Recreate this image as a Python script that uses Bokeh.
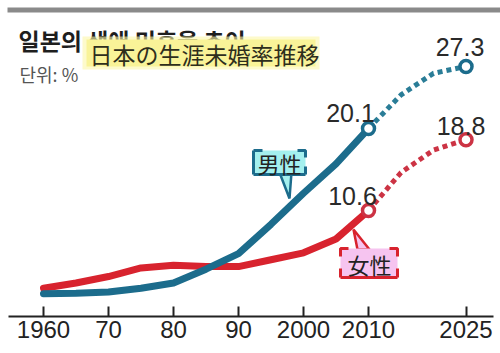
from bokeh.plotting import figure
from bokeh.models import FixedTicker, Range1d
from bokeh.core.properties import value
from bokeh.embed import file_html
from bokeh.resources import INLINE

# ---- data ----
years = [1960, 1965, 1970, 1975, 1980, 1985, 1990, 1995, 2000, 2005, 2010]
male = [0.95, 1.0, 1.15, 1.6, 2.2, 3.8, 5.6, 9.0, 12.6, 16.0, 20.1]
female = [1.6, 2.2, 2.95, 3.95, 4.25, 4.1, 4.1, 4.9, 5.7, 7.3, 10.6]
proj_years = [2010, 2015, 2020, 2025]
male_proj = [20.1, 24.0, 26.5, 27.3]
female_proj = [10.6, 15.0, 17.6, 18.8]
tick_years = [1960, 1970, 1980, 1990, 2000, 2010, 2025]
tick_labels = ["1960", "70", "80", "90", "2000", "2010", "2025"]

title_ko = "일본의 생애 미혼율 추이"
title_ja = "日本の生涯未婚率推移"
unit_text = "단위: %"
male_label = "男性"
female_label = "女性"

BLUE = "#1c6c8c"
BLUE_D = "#2a7d97"
RED = "#d8232e"
RED_D = "#cc3344"
NUM_FONT = "Liberation Sans"

W, H = 500, 353
FRAME_H = 316
# pixel -> data helpers (layout only)
PX_X0, PX_PER_YR = 43.0, 6.5
PX_Y0, PX_PER_UNIT = 301.5, 8.63


def X(px):
    return 1960 + (px - PX_X0) / PX_PER_YR


def Y(py):
    return (PX_Y0 - py) / PX_PER_UNIT


p = figure(width=W, height=H, output_backend="svg", toolbar_location=None,
           x_range=Range1d(X(0), X(W)), y_range=Range1d(Y(FRAME_H), Y(0)),
           y_axis_location=None, min_border_left=0, min_border_right=0,
           min_border_top=0, min_border_bottom=H - FRAME_H)
p.outline_line_color = None
p.xgrid.visible = False
p.ygrid.visible = False
p.background_fill_color = "white"
p.border_fill_color = "white"

ax = p.xaxis[0]
ax.ticker = FixedTicker(ticks=tick_years)
ax.major_label_overrides = {y: l for y, l in zip(tick_years, tick_labels)}
ax.minor_tick_line_color = None
ax.major_tick_in = 10
ax.major_tick_out = 0
ax.major_tick_line_width = 2
ax.major_tick_line_color = "#222222"
ax.axis_line_width = 2
ax.axis_line_color = "#222222"
ax.bounds = (X(8), X(493))
ax.major_label_text_font = NUM_FONT
ax.major_label_text_font_size = "24px"
ax.major_label_text_color = "#222222"
ax.major_label_standoff = 4

# top gray bar
p.quad(left=[X(7)], right=[X(500)], top=[Y(7)], bottom=[Y(12)],
       fill_color="#8a8a8a", line_color=None)

# lines
p.line(years, female, line_color=RED, line_width=7, line_join="round", line_cap="round")
p.line(years, male, line_color=BLUE, line_width=7, line_join="round", line_cap="round")
p.line(proj_years, male_proj, line_color=BLUE_D, line_width=5, line_dash="5 4")
p.line(proj_years, female_proj, line_color=RED_D, line_width=5, line_dash="5 4")

# end circles
p.scatter([2010, 2025], [male[-1], male_proj[-1]], size=12, fill_color="white",
          line_color=BLUE, line_width=3.5)
p.scatter([2010, 2025], [female[-1], female_proj[-1]], size=12, fill_color="white",
          line_color=RED_D, line_width=3.5)

# value labels
lab_x = [2010, 2025, 2010, 2025]
lab_y = [male[-1], male_proj[-1], female[-1], female_proj[-1]]
lab_t = [f"{v}" for v in lab_y]
p.text(lab_x, lab_y, text=lab_t, x_offset=[-18, -6, -16, -5], y_offset=[-16, -19, -15, -14],
       text_align="center", text_baseline="alphabetic",
       text_font=value(NUM_FONT), text_font_size="25px", text_color="#2a2a2a")

# male callout
p.patch([X(279), X(291), X(289)], [Y(172), Y(172), Y(198)], fill_color="#a4f0ee",
        line_color=BLUE, line_width=2.5)
p.quad(left=[X(253)], right=[X(305)], top=[Y(150)], bottom=[Y(174)],
       fill_color="#a4f0ee", line_color=None)
p.multi_line(
    [[X(253), X(253)], [X(253), X(305)], [X(253), X(262)], [X(297), X(305), X(305)], [X(305), X(305)]],
    [[Y(150), Y(174)], [Y(174), Y(174)], [Y(150), Y(150)], [Y(150), Y(150), Y(157)], [Y(166), Y(174)]],
    line_color=BLUE, line_width=3)
p.text([X(279)], [Y(162)], text=[male_label], text_align="center", text_baseline="middle",
       text_font=value("Noto Sans CJK JP"), text_font_size="22px", text_color="#222222")

# female callout
p.patch([X(357), X(369), X(353)], [Y(249), Y(249), Y(229)], fill_color="#f6c4f0",
        line_color=RED, line_width=2.5)
p.quad(left=[X(340)], right=[X(397)], top=[Y(248)], bottom=[Y(277)],
       fill_color="#f6c4f0", line_color=None)
p.multi_line(
    [[X(340), X(340), X(348)], [X(340), X(397)], [X(340), X(340)], [X(389), X(397), X(397)], [X(397), X(397)]],
    [[Y(256), Y(248), Y(248)], [Y(277), Y(277)], [Y(268), Y(277)], [Y(248), Y(248), Y(256)], [Y(268), Y(277)]],
    line_color=RED, line_width=3)
p.text([X(369)], [Y(263)], text=[female_label], text_align="center", text_baseline="middle",
       text_font=value("Noto Sans CJK JP"), text_font_size="22px", text_color="#222222")

# titles
p.text([X(18)], [Y(39)], text=[title_ko], text_align="left", text_baseline="middle",
       text_font=value("Noto Sans CJK KR"), text_font_style="bold", text_font_size="23px",
       text_color="#1e1e1e")
p.quad(left=[X(82)], right=[X(319)], top=[Y(36)], bottom=[Y(69)],
       fill_color="#fbf7a8", fill_alpha=0.6, line_color=None)
p.quad(left=[X(86)], right=[X(315)], top=[Y(39)], bottom=[Y(66)],
       fill_color="#f9f398", line_color=None)
p.text([X(89)], [Y(53)], text=[title_ja], text_align="left", text_baseline="middle",
       text_font=value("Noto Sans CJK JP"), text_font_size="23px", text_color="#2e2e1c")
p.text([X(19)], [Y(73)], text=[unit_text], text_align="left", text_baseline="middle",
       text_font=value("Noto Sans CJK KR"), text_font_size="18px", text_color="#555555")

open("out.html", "w").write(file_html(p, INLINE))
